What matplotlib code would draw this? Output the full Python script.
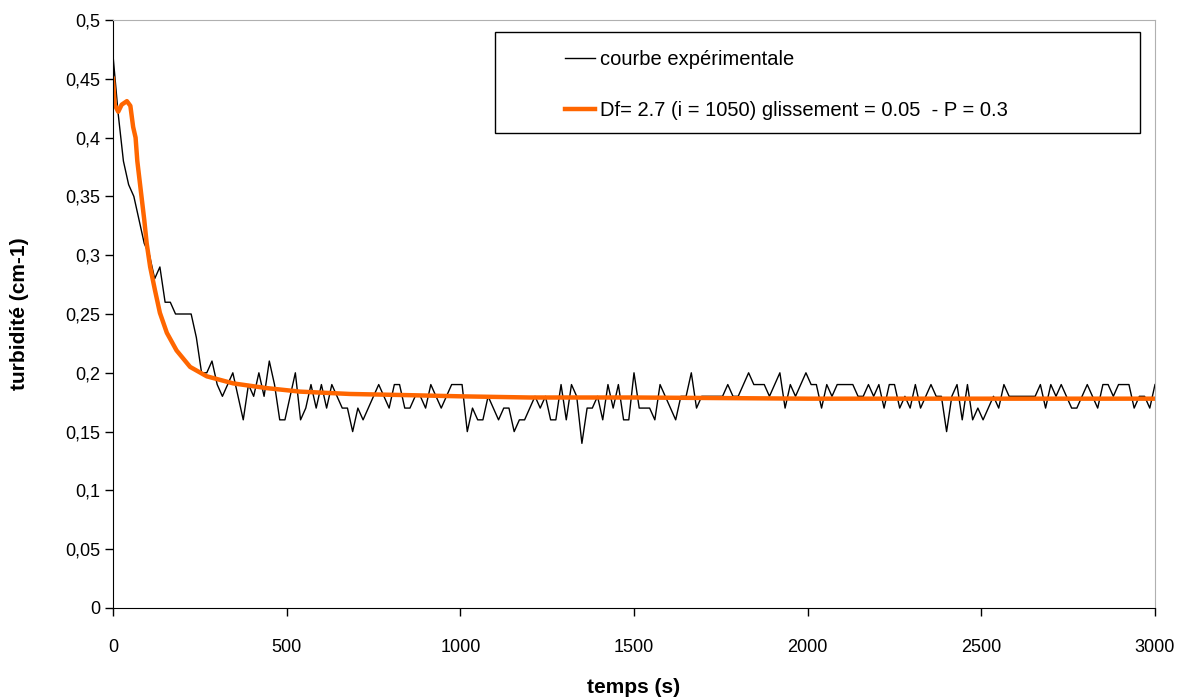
import numpy as np
import matplotlib.pyplot as plt
from matplotlib.patches import Rectangle
from matplotlib.ticker import FuncFormatter

plt.rcParams['font.family'] = ['Liberation Sans', 'DejaVu Sans']

# experimental curve, one reading every 15 s
temps = np.arange(0, 3001, 15)
turb = [
    0.47, 0.42, 0.38, 0.36, 0.35, 0.33, 0.31, 0.30, 0.28, 0.29,
    0.26, 0.26, 0.25, 0.25, 0.25, 0.25, 0.23, 0.20, 0.20, 0.21,
    0.19, 0.18, 0.19, 0.20, 0.18, 0.16, 0.19, 0.18, 0.20, 0.18,
    0.21, 0.19, 0.16, 0.16, 0.18, 0.20, 0.16, 0.17, 0.19, 0.17,
    0.19, 0.17, 0.19, 0.18, 0.17, 0.17, 0.15, 0.17, 0.16, 0.17,
    0.18, 0.19, 0.18, 0.17, 0.19, 0.19, 0.17, 0.17, 0.18, 0.18,
    0.17, 0.19, 0.18, 0.17, 0.18, 0.19, 0.19, 0.19, 0.15, 0.17,
    0.16, 0.16, 0.18, 0.17, 0.16, 0.17, 0.17, 0.15, 0.16, 0.16,
    0.17, 0.18, 0.17, 0.18, 0.16, 0.16, 0.19, 0.16, 0.19, 0.18,
    0.14, 0.17, 0.17, 0.18, 0.16, 0.19, 0.17, 0.19, 0.16, 0.16,
    0.20, 0.17, 0.17, 0.17, 0.16, 0.19, 0.18, 0.17, 0.16, 0.18,
    0.18, 0.20, 0.17, 0.18, 0.18, 0.18, 0.18, 0.18, 0.19, 0.18,
    0.18, 0.19, 0.20, 0.19, 0.19, 0.19, 0.18, 0.19, 0.20, 0.17,
    0.19, 0.18, 0.19, 0.20, 0.19, 0.19, 0.17, 0.19, 0.18, 0.19,
    0.19, 0.19, 0.19, 0.18, 0.18, 0.19, 0.18, 0.19, 0.17, 0.19,
    0.19, 0.17, 0.18, 0.17, 0.19, 0.17, 0.18, 0.19, 0.18, 0.18,
    0.15, 0.18, 0.19, 0.16, 0.19, 0.16, 0.17, 0.16, 0.17, 0.18,
    0.17, 0.19, 0.18, 0.18, 0.18, 0.18, 0.18, 0.18, 0.19, 0.17,
    0.19, 0.18, 0.19, 0.18, 0.17, 0.17, 0.18, 0.19, 0.18, 0.17,
    0.19, 0.19, 0.18, 0.19, 0.19, 0.19, 0.17, 0.18, 0.18, 0.17,
    0.19,
]

# simulated curve
fit_t = [0, 5, 15, 25, 40, 50, 58, 65, 70, 80, 90, 97, 107, 121, 135, 155,
         183, 222, 270, 346, 442, 538, 682, 850, 1000, 1200, 1500, 2000, 2500, 3000]
fit_v = [0.45, 0.428, 0.422, 0.428, 0.431, 0.427, 0.409, 0.40, 0.38, 0.355, 0.33,
         0.31, 0.29, 0.27, 0.251, 0.234, 0.219, 0.205, 0.197, 0.191, 0.187, 0.184,
         0.182, 0.181, 0.180, 0.179, 0.179, 0.178, 0.178, 0.178]

fig = plt.figure(figsize=(11.91, 7), dpi=100)
ax = fig.add_axes([113/1191, 1-608/700, 1042/1191, 588/700])

ax.plot(temps, turb, color='black', lw=1, label='courbe expérimentale')
ax.plot(fit_t, fit_v, color='#FF6600', lw=3.2,
        label='Df= 2.7 (i = 1050) glissement = 0.05  - P = 0.3')

ax.set_xlim(0, 3000)
ax.set_ylim(0, 0.5)
ax.set_xticks(np.arange(0, 3001, 500))
ax.set_yticks(np.arange(0, 0.501, 0.05))
ax.yaxis.set_major_formatter(FuncFormatter(lambda v, p: ('%g' % round(v, 2)).replace('.', ',')))
ax.tick_params(labelsize=13, direction='out', length=6, width=1)
ax.tick_params(axis='x', pad=16)
ax.tick_params(axis='y', pad=3)

for s in ['top', 'right']:
    ax.spines[s].set_color('#b0b0b0')
for s in ['left', 'bottom']:
    ax.spines[s].set_color('black')

ax.set_xlabel('temps (s)', fontsize=15, fontweight='bold', labelpad=16)
ax.set_ylabel('turbidité (cm-1)', fontsize=15, fontweight='bold', labelpad=26)

# legend frame drawn by hand, entries placed inside
ax.add_patch(Rectangle((0.3666, 0.808), 0.619, 0.172, transform=ax.transAxes,
                       fill=True, facecolor='white', edgecolor='black', lw=1, zorder=3))
leg = ax.legend(loc='upper left', bbox_to_anchor=(0.416, 0.98), frameon=False,
                fontsize=14.5, handlelength=1.5, handletextpad=0.25, labelspacing=1.6)
leg.set_zorder(4)

fig.savefig('out.png', dpi=100)
